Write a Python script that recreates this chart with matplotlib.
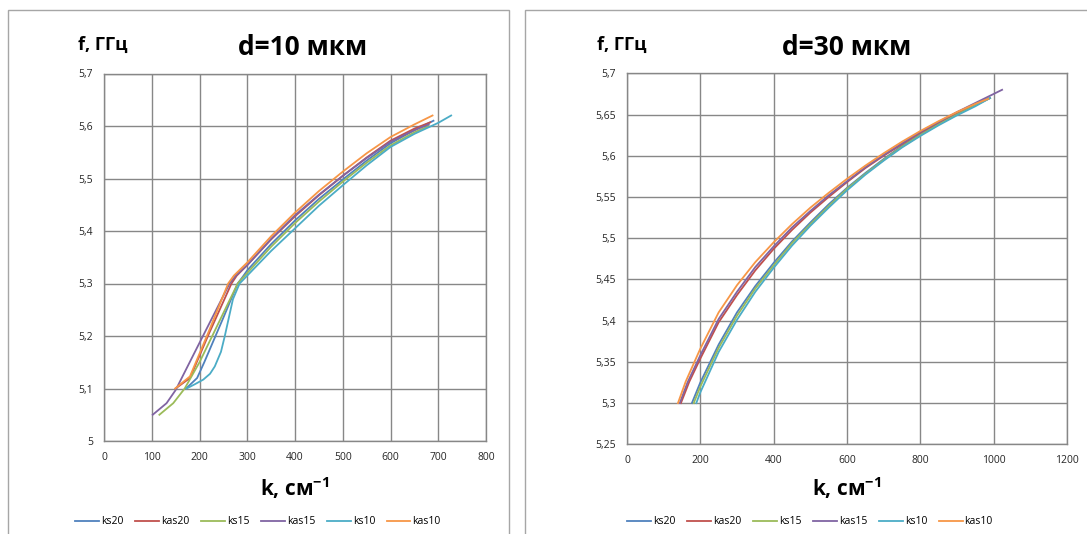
import matplotlib
matplotlib.use('Agg')
import matplotlib.pyplot as plt
from matplotlib.patches import Rectangle
from matplotlib.ticker import FixedLocator, FixedFormatter

plt.rcParams['font.family'] = ['Open Sans', 'DejaVu Sans']
plt.rcParams['mathtext.fontset'] = 'custom'
plt.rcParams['mathtext.rm'] = 'Open Sans'
plt.rcParams['mathtext.bf'] = 'Open Sans:bold'

# series names and colours (Excel 2007 palette)
names = ['ks20', 'kas20', 'ks15', 'kas15', 'ks10', 'kas10']
colors = ['#4F81BD', '#C0504D', '#9BBB59', '#8064A2', '#4BACC6', '#F79646']

# d = 10 mkm
k10_ks20 = [172, 195, 210, 250, 280, 290, 300, 350, 400, 450, 500, 550, 600, 650, 690]
f10_ks20 = [5.10, 5.12, 5.15, 5.235, 5.30, 5.312, 5.325, 5.375, 5.42, 5.461, 5.498, 5.534, 5.567, 5.592, 5.61]
k10_kas20 = [150, 180, 220, 267, 278, 300, 350, 400, 450, 500, 550, 600, 650, 683]
f10_kas20 = [5.10, 5.12, 5.205, 5.30, 5.315, 5.335, 5.384, 5.428, 5.468, 5.505, 5.54, 5.572, 5.595, 5.607]
k10_ks15 = [116, 145, 169, 200, 240, 280, 290, 300, 350, 400, 450, 500, 550, 600, 650, 680]
f10_ks15 = [5.05, 5.072, 5.10, 5.15, 5.225, 5.30, 5.31, 5.32, 5.37, 5.415, 5.456, 5.494, 5.53, 5.563, 5.588, 5.60]
k10_kas15 = [102, 131, 150, 200, 263, 276, 300, 350, 400, 450, 500, 550, 600, 650, 680]
f10_kas15 = [5.05, 5.072, 5.097, 5.187, 5.30, 5.315, 5.335, 5.385, 5.43, 5.469, 5.505, 5.539, 5.57, 5.592, 5.603]
k10_ks10 = [173, 190, 208, 222, 232, 245, 253, 270, 284, 300, 350, 400, 450, 500, 550, 600, 650, 700, 727]
f10_ks10 = [5.10, 5.108, 5.117, 5.128, 5.142, 5.17, 5.20, 5.27, 5.30, 5.315, 5.362, 5.405, 5.448, 5.487,
            5.525, 5.56, 5.585, 5.606, 5.62]
k10_kas10 = [149, 180, 220, 260, 272, 300, 350, 400, 450, 500, 550, 600, 650, 688]
f10_kas10 = [5.10, 5.123, 5.21, 5.30, 5.315, 5.34, 5.39, 5.435, 5.476, 5.513, 5.548, 5.579, 5.603, 5.62]

# d = 30 mkm
k30_ks20 = [177, 200, 250, 300, 350, 400, 450, 500, 550, 600, 650, 700, 750, 800, 850, 900, 950, 990]
f30_ks20 = [5.30, 5.325, 5.371, 5.41, 5.442, 5.47, 5.496, 5.519, 5.541, 5.561, 5.579, 5.596, 5.612,
            5.626, 5.639, 5.651, 5.662, 5.67]
k30_kas20 = [147, 170, 200, 250, 300, 350, 400, 450, 500, 550, 600, 650, 700, 750, 800, 850, 900, 950, 990]
f30_kas20 = [5.30, 5.326, 5.354, 5.398, 5.431, 5.461, 5.487, 5.51, 5.531, 5.55, 5.568, 5.585, 5.60,
             5.614, 5.628, 5.64, 5.652, 5.662, 5.67]
k30_ks15 = [182, 200, 250, 300, 350, 400, 450, 500, 550, 600, 650, 700, 750, 800, 850, 900, 950, 990]
f30_ks15 = [5.30, 5.32, 5.367, 5.406, 5.439, 5.467, 5.494, 5.517, 5.539, 5.56, 5.578, 5.595, 5.611,
            5.625, 5.638, 5.65, 5.661, 5.67]
k30_kas15 = [144, 165, 200, 250, 300, 350, 400, 450, 500, 550, 600, 650, 700, 750, 800, 850, 900, 950, 1023]
f30_kas15 = [5.30, 5.325, 5.358, 5.402, 5.435, 5.465, 5.49, 5.513, 5.533, 5.552, 5.569, 5.586, 5.601,
             5.615, 5.629, 5.641, 5.653, 5.664, 5.68]
k30_ks10 = [189, 200, 250, 300, 350, 400, 450, 500, 550, 600, 650, 700, 750, 800, 850, 900, 950, 990]
f30_ks10 = [5.30, 5.313, 5.362, 5.401, 5.435, 5.464, 5.491, 5.515, 5.537, 5.558, 5.577, 5.594, 5.61,
            5.624, 5.637, 5.649, 5.66, 5.67]
k30_kas10 = [139, 160, 200, 250, 300, 350, 400, 450, 500, 550, 600, 650, 700, 750, 800, 850, 900, 950, 985]
f30_kas10 = [5.30, 5.326, 5.366, 5.41, 5.443, 5.471, 5.495, 5.517, 5.537, 5.555, 5.572, 5.588, 5.603,
             5.617, 5.63, 5.642, 5.653, 5.663, 5.669]

x10_ticks = [0, 100, 200, 300, 400, 500, 600, 700, 800]
y10_ticks = [5.0, 5.1, 5.2, 5.3, 5.4, 5.5, 5.6, 5.7]
y10_labels = ['5', '5,1', '5,2', '5,3', '5,4', '5,5', '5,6', '5,7']
x30_ticks = [0, 200, 400, 600, 800, 1000, 1200]
y30_ticks = [5.25, 5.3, 5.35, 5.4, 5.45, 5.5, 5.55, 5.6, 5.65, 5.7]
y30_labels = ['5,25', '5,3', '5,35', '5,4', '5,45', '5,5', '5,55', '5,6', '5,65', '5,7']

W, H = 1087, 534
fig = plt.figure(figsize=(W / 100, H / 100), dpi=100)


def fx(px):
    return px / W


def fy(py):
    return 1 - py / H


grid_c = '#878787'


def make_axes(rect, series, xt, yt, ylab):
    ax = fig.add_axes(rect)
    for (k, f), name, c in zip(series, names, colors):
        ax.plot(k, f, color=c, lw=1.3, label=name, solid_joinstyle='round')
    ax.set_xlim(xt[0], xt[-1])
    ax.set_ylim(yt[0], yt[-1])
    ax.xaxis.set_major_locator(FixedLocator(xt))
    ax.yaxis.set_major_locator(FixedLocator(yt))
    ax.yaxis.set_major_formatter(FixedFormatter(ylab))
    ax.grid(True, color=grid_c, lw=1.0)
    ax.set_axisbelow(True)
    for s in ax.spines.values():
        s.set_color(grid_c)
        s.set_linewidth(1.0)
    ax.tick_params(length=0, labelsize=7.5, colors='#262626')
    ax.tick_params(axis='x', pad=8)
    ax.tick_params(axis='y', pad=8)
    return ax


series10 = [(k10_ks20, f10_ks20), (k10_kas20, f10_kas20), (k10_ks15, f10_ks15),
            (k10_kas15, f10_kas15), (k10_ks10, f10_ks10), (k10_kas10, f10_kas10)]
series30 = [(k30_ks20, f30_ks20), (k30_kas20, f30_kas20), (k30_ks15, f30_ks15),
            (k30_kas15, f30_kas15), (k30_ks10, f30_ks10), (k30_kas10, f30_kas10)]

# left chart
ax1 = make_axes([fx(104), fy(441), fx(486 - 104), (441 - 73.5) / H],
                series10, x10_ticks, y10_ticks, y10_labels)
# right chart
ax2 = make_axes([fx(627), fy(444.3), fx(1067 - 627), (444.3 - 73.3) / H],
                series30, x30_ticks, y30_ticks, y30_labels)

# chart area frames
frame_c = '#A6A6A6'
fig.add_artist(Rectangle((fx(7.5), fy(560)), fx(508.5 - 7.5), (560 - 9.5) / H,
                         transform=fig.transFigure, fill=False, ec=frame_c, lw=1.0))
fig.add_artist(Rectangle((fx(525), fy(560)), fx(1110 - 525), (560 - 10) / H,
                         transform=fig.transFigure, fill=False, ec=frame_c, lw=1.0))

# texts
for cx, lx in [(295, 78), (847, 597)]:
    fig.text(fx(lx), fy(50), 'f, ГГц', fontsize=13, fontweight='bold',
             ha='left', va='baseline')
    fig.text(fx(cx), fy(496), r'k, см$^{\mathbf{-1}}$', fontsize=15,
             fontweight='bold', ha='center', va='baseline')
fig.text(fx(303), fy(55), 'd=10 мкм', fontsize=19, fontweight='bold',
         ha='center', va='baseline')
fig.text(fx(847), fy(55), 'd=30 мкм', fontsize=19, fontweight='bold',
         ha='center', va='baseline')

# legends
for ax, cx in [(ax1, 258), (ax2, 810)]:
    h, l = ax.get_legend_handles_labels()
    fig.legend(h, l, loc='center', bbox_to_anchor=(fx(cx), fy(522)), ncol=6,
               frameon=False, fontsize=7.5, handlelength=2.3, handletextpad=0.2,
               columnspacing=1.1, borderaxespad=0, borderpad=0)

fig.savefig('out.png', dpi=100)
